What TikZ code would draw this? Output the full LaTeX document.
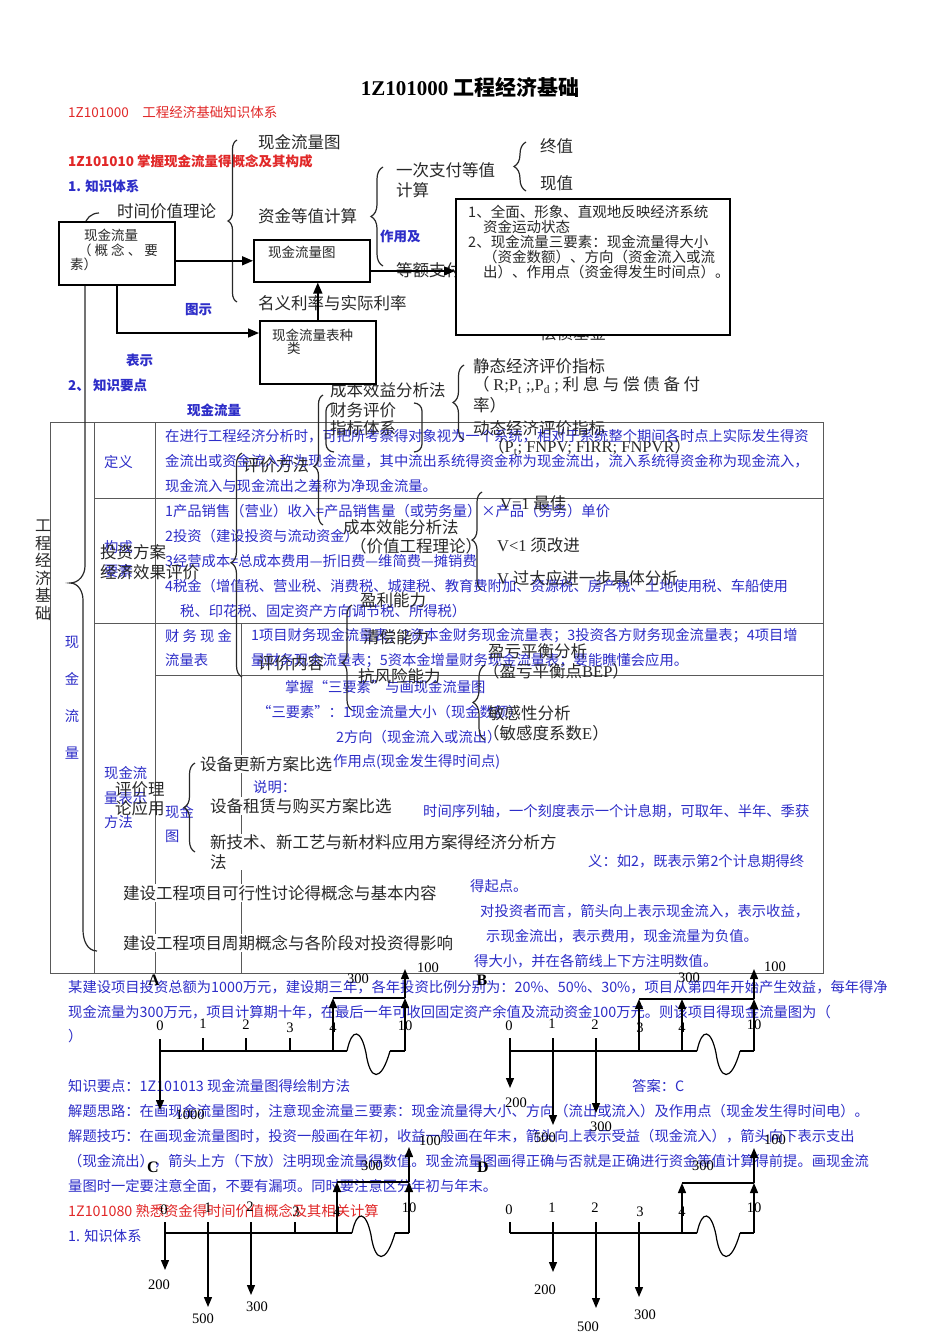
\documentclass[tikz,border=0pt]{standalone}
\usepackage{fontspec}
\setmainfont{Noto Sans CJK SC}
\newfontfamily\lat{Liberation Serif}
\usetikzlibrary{arrows.meta,decorations.pathreplacing}

\definecolor{txtblue}{RGB}{45,45,200}
\definecolor{txtred}{RGB}{225,40,40}
\definecolor{ink}{RGB}{40,40,40}

\tikzset{
  blu/.style={anchor=west, inner sep=0pt, text=txtblue, font=\fontsize{14.3}{24.5}\selectfont, align=left},
  blub/.style={blu, font=\fontsize{13.5}{16}\selectfont\bfseries},
  redt/.style={anchor=west, inner sep=0pt, text=txtred, font=\fontsize{13.5}{16}\selectfont},
  ovl/.style={anchor=west, inner sep=0pt, text=ink, font=\fontsize{16.5}{19.5}\selectfont, align=left},
  ovlw/.style={ovl, fill=white, inner sep=1pt},
  boxt/.style={anchor=west, inner sep=0pt, text=ink, font=\fontsize{13.5}{15}\selectfont},
  ctbox/.style={draw, line width=1.6pt, fill=white, anchor=north west, inner sep=0pt},
  tbl/.style={line width=1pt, black!65},
  flow/.style={line width=1.6pt, -{Triangle[length=11pt,width=9pt]}},
  bracel/.style={line width=1.2pt, ink, decorate, decoration={brace, amplitude=10pt}},
  num/.style={inner sep=0pt, font=\lat\fontsize{14.5}{16}\selectfont},
  let/.style={inner sep=0pt, font=\lat\bfseries\fontsize{16}{18}\selectfont},
  axis/.style={line width=1.3pt},
  cf/.style={line width=1.3pt, -{Triangle[length=10pt,width=8pt]}},
  cfwave/.pic={\draw[line width=1.2pt] (0,0) .. controls (5,-24) and (14,-22) .. (19,2) .. controls (23,30) and (34,32) .. (43,0);}
}

\begin{document}
\begin{tikzpicture}[x=1pt,y=-1pt]
    \useasboundingbox[fill=white] (0,0) rectangle (950,1344);

    % Headings
    \node[inner sep=0pt, font=\fontsize{21}{24}\selectfont\bfseries] (title) at (470,87) {{\lat 1Z101000} 工程经济基础};
    \node[redt] (hd1) at (68,112) {1Z101000\quad 工程经济基础知识体系};
    \node[redt, font=\fontsize{13.5}{16}\selectfont\bfseries] (hd2) at (68,161) {1Z101010 掌握现金流量得概念及其构成};
    \node[blub] (zstx) at (68,186) {1. 知识体系};
    \node[blub] (tushi) at (185,310) {图示};
    \node[blub] (biaoshi) at (126,360) {表示};
    \node[blub] (zsyd) at (68,385) {2、 知识要点};
    \node[blub] (zyj) at (380,236) {作用及};
    \node[blub] (xjll) at (187,410) {现金流量};

    % Table of cash flow points
    \draw[tbl] (50,422) rectangle (823,973);
    \draw[tbl] (94,422) -- (94,973);
    \draw[tbl] (155,422) -- (155,973);
    \draw[tbl] (94,498) -- (823,498);
    \draw[tbl] (94,623) -- (823,623);
    \draw[tbl] (155,675) -- (823,675);
    \draw[tbl] (241,623) -- (241,973);

    % Table texts
    \node[blu, anchor=center, align=center, font=\fontsize{14.3}{37}\selectfont] (xjlv) at (72,698) {现\\金\\流\\量};
    \node[blu] (dingyi) at (104,462) {定义};
    \node[blu] (goucheng) at (104,559) {构成\\要素};
    \node[blu] (bsff) at (104,798) {现金流\\量表示\\方法};
    \node[blu] (dy1) at (165,436) {在进行工程经济分析时，可把所考察得对象视为一个系统，相对于系统整个期间各时点上实际发生得资};
    \node[blu] (dy2) at (165,461) {金流出或资金流入称为现金流量，其中流出系统得资金称为现金流出，流入系统得资金称为现金流入，};
    \node[blu] (dy3) at (165,486) {现金流入与现金流出之差称为净现金流量。};
    \node[blu] (gc1) at (165,511) {1产品销售（营业）收入=产品销售量（或劳务量）×产品（劳务）单价};
    \node[blu] (gc2) at (165,536) {2投资（建设投资与流动资金）};
    \node[blu] (gc3) at (165,561) {3经营成本=总成本费用—折旧费—维简费—摊销费};
    \node[blu] (gc4) at (165,586) {4税金（增值税、营业税、消费税、城建税、教育费附加、资源税、房产税、土地使用税、车船使用};
    \node[blu] (gc5) at (180,611) {税、印花税、固定资产方向调节税、所得税）};
    \node[blu] (cwb) at (165,648) {财 务 现 金\\流量表};
    \node[blu] (cwb1) at (251,636) {1项目财务现金流量表；2资本金财务现金流量表；3投资各方财务现金流量表；4项目增};
    \node[blu] (cwb2) at (251,661) {量财务现金流量表；5资本金增量财务现金流量表；要能瞧懂会应用。};
    \node[blu] (lltu) at (165,824) {现金\\图};
    \node[blu] (sys) at (285,687) {掌握“三要素”与画现金流量图};
    \node[blu] (sys1) at (257,712) {“三要素”：1现金流量大小（现金数额）};
    \node[blu] (sys2) at (336,737) {2方向（现金流入或流出）};
    \node[blu] (sys3) at (333,762) {作用点(现金发生得时间点)};
    \node[blu] (sm) at (253,787) {说明：};
    \node[blu] (sm1) at (423,811) {时间序列轴，一个刻度表示一个计息期，可取年、半年、季获};
    \node[blu] (sm2) at (588,861) {义：如2，既表示第2个计息期得终};
    \node[blu] (sm2b) at (470,886) {得起点。};
    \node[blu] (sm3) at (480,911) {对投资者而言，箭头向上表示现金流入，表示收益，};
    \node[blu] (sm3b) at (486,936) {示现金流出，表示费用，现金流量为负值。};
    \node[blu] (sm4) at (474,961) {得大小，并在各箭线上下方注明数值。};

    % Big brace of the knowledge system
    \draw[line width=1.2pt, ink] (99,213) to[out=180,in=90] (85,226) -- (85,566) to[out=-90,in=0] (70,583)
        to[out=0,in=90] (83,600) -- (83,930) to[out=-90,in=180] (97,951);
    \node[ovl, align=center, font=\fontsize{16}{17.5}\selectfont] (gcjj) at (35,570) {工\\程\\经\\济\\基\\础};

    % Braces
    \draw[bracel, decoration={amplitude=9pt, aspect=0.5}] (237,302) -- (237,140);
    \draw[bracel, decoration={amplitude=12pt, aspect=0.5}] (383,266) -- (383,167);
    \draw[bracel, decoration={amplitude=12pt, aspect=0.5}] (526,191) -- (526,142);
    \draw[bracel, decoration={amplitude=11pt, aspect=0.5}] (464,440) -- (464,365);
    \draw[bracel, decoration={amplitude=9pt, aspect=0.45}] (323,525) -- (323,395);
    \draw[bracel, decoration={amplitude=11pt, aspect=0.51}] (242,677) -- (242,453);
    \draw[bracel, decoration={amplitude=10pt, aspect=0.45}] (352,710) -- (352,605);
    \draw[bracel, decoration={amplitude=10pt, aspect=0.51}] (482,590) -- (482,492);
    \draw[bracel, decoration={amplitude=12pt, aspect=0.5}] (485,740) -- (485,665);
    \draw[bracel, decoration={amplitude=11pt, aspect=0.5}] (195,852) -- (195,763);
    \draw[line width=1.2pt, ink] (334,403) to[out=180,in=90] (326,411) -- (326,444) to[out=-90,in=180] (334,452);
    \draw[line width=1.2pt, ink] (414,403) to[out=0,in=90] (422,411) -- (422,444) to[out=-90,in=0] (414,452);

    % Knowledge items
    \node[ovl] (sjjz) at (117,211) {时间价值理论};
    \node[ovl] (xjtu) at (258,142) {现金流量图};
    \node[ovl] (zjdz) at (258,216) {资金等值计算};
    \node[ovl] (mylv) at (258,303) {名义利率与实际利率};
    \node[ovl] (ycdz) at (396,180) {一次支付等值\\计算};
    \node[ovl] (zhongzhi) at (540,146) {终值};
    \node[ovl] (xianzhi) at (540,183) {现值};
    \node[ovl] (edzf) at (396,270) {等额支付};
    \node[ovl] (cjjj) at (540,333) {偿债基金};
    \node[ovl] (cbxy) at (330,390) {成本效益分析法};
    \node[ovl, font=\fontsize{16.5}{18}\selectfont] (cwpj) at (330,419) {财务评价\\指标体系};
    \node[ovl] (jtzb) at (473,366) {静态经济评价指标};
    \node[ovl] (jtzb2) at (473,385) {（ {\lat R;P\textsubscript{t} ;,P\textsubscript{d} ;} 利 息 与 偿 债 备 付};
    \node[ovl] (jtzb3) at (473,405) {率）};
    \node[ovl] (dtzb) at (473,428) {动态经济评价指标};
    \node[ovl] (dtzb2) at (488,447) {（{\lat P\textsubscript{t}; FNPV; FIRR; FNPVR}）};
    \node[ovl] (pjff) at (243,465) {评价方法};
    \node[ovl] (cbxn) at (343,527) {成本效能分析法};
    \node[ovl] (jzgc) at (350,546) {（价值工程理论）};
    \node[ovl] (vbest) at (500,503) {{\lat V=1} 最佳};
    \node[ovl] (vless) at (497,545) {{\lat V<1} 须改进};
    \node[ovl] (vmore) at (497,578) {{\lat V} 过大应进一步具体分析};
    \node[ovl] (tzfa) at (100,562) {投资方案\\经济效果评价};
    \node[ovl] (ylnl) at (360,600) {盈利能力};
    \node[ovl] (qcnl) at (363,637) {清偿能力};
    \node[ovl] (pjnr) at (258,663) {评价内容};
    \node[ovl] (kfx) at (358,676) {抗风险能力};
    \node[ovl] (ykph) at (488,651) {盈亏平衡分析};
    \node[ovl] (bep) at (483,671) {（盈亏平衡点{\lat BEP}）};
    \node[ovl] (mgx) at (488,713) {敏感性分析};
    \node[ovl] (mgxs) at (483,733) {（敏感度系数{\lat E}）};
    \node[ovlw] (sbgx) at (199,764) {设备更新方案比选};
    \node[ovl] (pjll) at (115,799) {评价理\\论应用};
    \node[ovlw] (sbzl) at (209,806) {设备租赁与购买方案比选};
    \node[ovlw] (xjs) at (209,852) {新技术、新工艺与新材料应用方案得经济分析方\\法};
    \node[ovlw] (kxx) at (122,893) {建设工程项目可行性讨论得概念与基本内容};
    \node[ovlw] (xmzq) at (122,943) {建设工程项目周期概念与各阶段对投资得影响};

    % Boxes of the concept map
    \node[ctbox, minimum width=116pt, minimum height=63pt] (cfbox) at (58,221) {};
    \node[boxt] (cft1) at (84,235) {现金流量};
    \node[boxt] (cft2) at (78,250) {（ 概 念 、 要};
    \node[boxt] (cft3) at (70,264) {素）};
    \node[ctbox, minimum width=116pt, minimum height=42pt] (tubox) at (253,239) {};
    \node[boxt] (tut) at (268,252) {现金流量图};
    \node[ctbox, minimum width=116pt, minimum height=63pt] (bxbox) at (259,320) {};
    \node[boxt] (bxt1) at (272,335) {现金流量表种};
    \node[boxt] (bxt2) at (287,348) {类};
    \node[ctbox, minimum width=274pt, minimum height=136pt] (bigbox) at (455,198) {};
    \node[boxt, font=\fontsize{14.5}{15}\selectfont] (bg1) at (468,212) {1、全面、形象、直观地反映经济系统};
    \node[boxt, font=\fontsize{14.5}{15}\selectfont] (bg2) at (483,227) {资金运动状态};
    \node[boxt, font=\fontsize{14.5}{15}\selectfont] (bg3) at (468,242) {2、现金流量三要素：现金流量得大小};
    \node[boxt, font=\fontsize{14.5}{15}\selectfont] (bg4) at (483,257) {（资金数额）、方向（资金流入或流};
    \node[boxt, font=\fontsize{14.5}{15}\selectfont] (bg5) at (483,272) {出）、作用点（资金得发生时间点）。};

    % Arrows between the boxes
    \coordinate (bxin) at (259,333);
    \coordinate (tuout) at (369,271);
    \draw[flow] (tubox.west -| cfbox.east) -- (tubox.west);
    \draw[flow] (cfbox.south) |- (bxin);
    \draw[flow] (bxbox.north) -- (bxbox.north |- tubox.south);
    \draw[flow] (tuout) -- (tuout -| bigbox.west);

    % Question text
    \node[blu] (q1) at (68,987) {某建设项目投资总额为1000万元，建设期三年，各年投资比例分别为：20\%、50\%、30\%，项目从第四年开始产生效益，每年得净};
    \node[blu] (q2) at (68,1012) {现金流量为300万元，项目计算期十年，在最后一年可收回固定资产余值及流动资金100万元。则该项目得现金流量图为（};
    \node[blu] (q3) at (68,1036) {）};
    \node[blu] (k1) at (68,1086) {知识要点：1Z101013 现金流量图得绘制方法};
    \node[blu] (ans) at (632,1086) {答案：C};
    \node[blu] (k2) at (68,1111) {解题思路：在画现金流量图时，注意现金流量三要素：现金流量得大小、方向（流出或流入）及作用点（现金发生得时间电）。};
    \node[blu] (k3) at (68,1136) {解题技巧：在画现金流量图时，投资一般画在年初，收益一般画在年末，箭头向上表示受益（现金流入），箭头向下表示支出};
    \node[blu] (k4) at (68,1161) {（现金流出），箭头上方（下放）注明现金流量得数值。现金流量图画得正确与否就是正确进行资金等值计算得前提。画现金流};
    \node[blu] (k5) at (68,1186) {量图时一定要注意全面，不要有漏项。同时要注意区分年初与年末。};
    \node[redt, font=\fontsize{14.3}{16}\selectfont] (hd3) at (68,1211) {1Z101080 熟悉资金得时间价值概念及其相关计算};
    \node[blu] (zstx2) at (68,1236) {1. 知识体系};

    % Cash flow diagram A
    \node[let] (labA) at (154,980) {A};
    \coordinate (A0) at (160,1051); \coordinate (A1) at (203,1051); \coordinate (A2) at (246,1051);
    \coordinate (A3) at (290,1051); \coordinate (A4) at (333,1051); \coordinate (A10) at (405,1051);
    \coordinate (Aw) at (347,1051); \coordinate (Ae) at (390,1051);
    \coordinate (A4b) at (333,998); \coordinate (A10b) at (405,998); \coordinate (A10c) at (405,969);
    \coordinate (A0d) at (160,1110);
    \draw[axis] (A0) -- (Aw); \pic at (Aw) {cfwave}; \draw[axis] (Ae) -- (A10);
    \draw[axis] (A0) -- ++(0,-12); \draw[axis] (A1) -- ++(0,-13); \draw[axis] (A2) -- ++(0,-13); \draw[axis] (A3) -- ++(0,-13);
    \draw[cf] (A4) -- (A4b); \draw[cf] (A10) -- (A10b); \draw[cf] (A10b) -- (A10c); \draw[axis] (A4b) -- (A10b);
    \draw[cf] (A0) -- (A0d);
    \node[num] (An0) at (160,1026) {0}; \node[num] (An1) at (203,1024) {1}; \node[num] (An2) at (246,1025) {2};
    \node[num] (An3) at (290,1028) {3}; \node[num] (An4) at (333,1028) {4}; \node[num] (An10) at (405,1026) {10};
    \node[num] (Av300) at (358,979) {300}; \node[num] (Av100) at (428,968) {100}; \node[num] (Av1000) at (190,1115) {1000};

    % Cash flow diagram B
    \node[let] (labB) at (482,980) {B};
    \coordinate (B0) at (510,1051); \coordinate (B1) at (553,1051); \coordinate (B2) at (596,1051);
    \coordinate (B3) at (639,1051); \coordinate (B4) at (682,1051); \coordinate (B10) at (754,1051);
    \coordinate (Bw) at (697,1051); \coordinate (Be) at (740,1051);
    \coordinate (B3b) at (639,999); \coordinate (B4b) at (682,999); \coordinate (B10b) at (754,999); \coordinate (B10c) at (754,969);
    \coordinate (B0d) at (510,1088); \coordinate (B1d) at (553,1125); \coordinate (B2d) at (596,1113);
    \draw[axis] (B0) -- (Bw); \pic at (Bw) {cfwave}; \draw[axis] (Be) -- (B10);
    \draw[axis] (B0) -- ++(0,-13); \draw[axis] (B1) -- ++(0,-13); \draw[axis] (B2) -- ++(0,-13);
    \draw[cf] (B3) -- (B3b); \draw[cf] (B4) -- (B4b); \draw[cf] (B10) -- (B10b); \draw[cf] (B10b) -- (B10c); \draw[axis] (B3b) -- (B10b);
    \draw[cf] (B0) -- (B0d); \draw[cf] (B1) -- (B1d); \draw[cf] (B2) -- (B2d);
    \node[num] (Bn0) at (509,1026) {0}; \node[num] (Bn1) at (552,1024) {1}; \node[num] (Bn2) at (595,1025) {2};
    \node[num] (Bn3) at (640,1028) {3}; \node[num] (Bn4) at (682,1028) {4}; \node[num] (Bn10) at (754,1025) {10};
    \node[num] (Bv300) at (689,978) {300}; \node[num] (Bv100) at (775,967) {100};
    \node[num] (Bv200) at (516,1103) {200}; \node[num] (Bv500) at (545,1138) {500}; \node[num] (Bv300b) at (601,1127) {300};

    % Cash flow diagram C
    \node[let] (labC) at (153,1167) {C};
    \coordinate (C0) at (165,1233); \coordinate (C1) at (208,1233); \coordinate (C2) at (251,1233);
    \coordinate (C3) at (295,1233); \coordinate (C4) at (337,1233); \coordinate (C10) at (409,1233);
    \coordinate (Cw) at (352,1233); \coordinate (Ce) at (395,1233);
    \coordinate (C4b) at (337,1182); \coordinate (C10b) at (409,1182); \coordinate (C10c) at (409,1147);
    \coordinate (C0d) at (165,1270); \coordinate (C1d) at (208,1307); \coordinate (C2d) at (251,1295);
    \draw[axis] (C0) -- (Cw); \pic at (Cw) {cfwave}; \draw[axis] (Ce) -- (C10);
    \draw[axis] (C0) -- ++(0,-11); \draw[axis] (C1) -- ++(0,-11); \draw[axis] (C2) -- ++(0,-11); \draw[axis] (C3) -- ++(0,-11);
    \draw[cf] (C4) -- (C4b); \draw[cf] (C10) -- (C10b); \draw[cf] (C10b) -- (C10c); \draw[axis] (C4b) -- (C10b);
    \draw[cf] (C0) -- (C0d); \draw[cf] (C1) -- (C1d); \draw[cf] (C2) -- (C2d);
    \node[num] (Cn0) at (164,1210) {0}; \node[num] (Cn1) at (208,1208) {1}; \node[num] (Cn2) at (250,1207) {2};
    \node[num] (Cn3) at (296,1212) {3}; \node[num] (Cn4) at (337,1212) {4}; \node[num] (Cn10) at (409,1208) {10};
    \node[num] (Cv300) at (372,1166) {300}; \node[num] (Cv100) at (430,1141) {100};
    \node[num] (Cv200) at (159,1285) {200}; \node[num] (Cv500) at (203,1319) {500}; \node[num] (Cv300b) at (257,1307) {300};

    % Cash flow diagram D
    \node[let] (labD) at (483,1167) {D};
    \coordinate (D0) at (510,1233); \coordinate (D1) at (553,1233); \coordinate (D2) at (596,1233);
    \coordinate (D3) at (639,1233); \coordinate (D4) at (682,1233); \coordinate (D10) at (754,1233);
    \coordinate (Dw) at (697,1233); \coordinate (De) at (740,1233);
    \coordinate (D4b) at (682,1183); \coordinate (D10b) at (754,1183); \coordinate (D10c) at (754,1148);
    \coordinate (D1d) at (553,1272); \coordinate (D2d) at (596,1308); \coordinate (D3d) at (639,1297);
    \draw[axis] (D0) -- (Dw); \pic at (Dw) {cfwave}; \draw[axis] (De) -- (D10);
    \draw[axis] (D0) -- ++(0,-11); \draw[axis] (D1) -- ++(0,-11); \draw[axis] (D2) -- ++(0,-11); \draw[axis] (D3) -- ++(0,-11);
    \draw[cf] (D4) -- (D4b); \draw[cf] (D10) -- (D10b); \draw[cf] (D10b) -- (D10c); \draw[axis] (D4b) -- (D10b);
    \draw[cf] (D1) -- (D1d); \draw[cf] (D2) -- (D2d); \draw[cf] (D3) -- (D3d);
    \node[num] (Dn0) at (509,1210) {0}; \node[num] (Dn1) at (552,1208) {1}; \node[num] (Dn2) at (595,1208) {2};
    \node[num] (Dn3) at (640,1212) {3}; \node[num] (Dn4) at (682,1212) {4}; \node[num] (Dn10) at (754,1208) {10};
    \node[num] (Dv300) at (703,1166) {300}; \node[num] (Dv100) at (775,1140) {100};
    \node[num] (Dv200) at (545,1290) {200}; \node[num] (Dv500) at (588,1327) {500}; \node[num] (Dv300b) at (645,1315) {300};

\end{tikzpicture}
\end{document}
